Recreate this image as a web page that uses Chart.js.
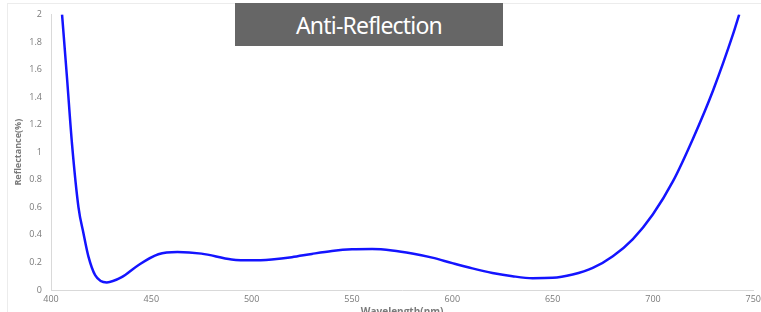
<!DOCTYPE html>
<html>
<head>
<meta charset="utf-8">
<script src="https://cdn.jsdelivr.net/npm/chart.js@4.4.1/dist/chart.umd.min.js"></script>
<style>
    html, body { margin: 0; padding: 0; background: #fff; overflow: hidden; }
    #wrap { position: relative; width: 761px; height: 312px; overflow: hidden; }
    #frame { position: absolute; left: 7px; top: 3px; width: 800px; height: 400px; border: 1px solid #ececec; box-sizing: border-box; }
    #title-box {
        position: absolute; left: 235px; top: 3px; width: 268px; height: 43px;
        background: #666666; color: #fff;
        font-family: "Noto Sans", sans-serif; font-size: 23px; letter-spacing: -0.8px;
        display: flex; align-items: center; justify-content: center;
    }
</style>
</head>
<body>
<div id="wrap">
    <div id="frame"></div>
    <canvas id="chart" width="765" height="322"></canvas>
    <div id="title-box">Anti-Reflection</div>
</div>
<script>
    // Wellenlänge (nm) und Reflexion (%)
    const wavelengths = [405.5, 408, 410.5, 413.7, 416.2, 418.7, 422, 427.8, 435, 443.5, 453.5, 463, 475, 490, 500, 510, 520, 530, 540, 550, 560, 570, 580, 590, 600, 610, 620, 630, 640, 650, 660, 670, 680, 690, 700, 710, 720, 730, 740, 743];
    const reflectance = [2.0, 1.535, 1.055, 0.6, 0.41, 0.24, 0.108, 0.055, 0.091, 0.18, 0.259, 0.276, 0.264, 0.222, 0.215, 0.222, 0.238, 0.262, 0.283, 0.295, 0.297, 0.287, 0.265, 0.235, 0.195, 0.157, 0.124, 0.1, 0.086, 0.088, 0.112, 0.16, 0.245, 0.37, 0.55, 0.79, 1.1, 1.45, 1.86, 2.0];

    const xTicks = [400, 450, 500, 550, 600, 650, 700, 750];
    const yTicks = [0, 0.2, 0.4, 0.6, 0.8, 1, 1.2, 1.4, 1.6, 1.8, 2];

    const points = wavelengths.map((w, i) => ({ x: w, y: reflectance[i] }));

    const tickFont = { family: '"Open Sans", sans-serif', size: 9 };
    const tickColor = '#7a7a7a';

    new Chart(document.getElementById('chart'), {
        type: 'scatter',
        data: {
            datasets: [{
                data: points,
                showLine: true,
                borderColor: '#1414ff',
                borderWidth: 2.5,
                pointRadius: 0,
                cubicInterpolationMode: 'monotone'
            }]
        },
        options: {
            responsive: false,
            animation: false,
            layout: { padding: { left: 13, right: 3, top: 12, bottom: 0 } },
            plugins: { legend: { display: false }, tooltip: { enabled: false } },
            scales: {
                x: {
                    type: 'linear',
                    min: 400,
                    max: 750,
                    afterBuildTicks: (scale) => { scale.ticks = xTicks.map(v => ({ value: v })); },
                    afterFit: (scale) => { scale.height = 32; },
                    grid: { display: false, drawTicks: false },
                    border: { color: '#d9d9d9' },
                    ticks: { font: tickFont, color: tickColor, padding: 4, maxRotation: 0, callback: (v) => String(v) },
                    title: { display: true, text: 'Wavelength(nm)', color: '#7a7a7a', font: { family: '"Open Sans", sans-serif', size: 10, weight: 'bold' }, padding: { top: 4 } }
                },
                y: {
                    min: 0,
                    max: 2,
                    afterBuildTicks: (scale) => { scale.ticks = yTicks.map(v => ({ value: v })); },
                    afterFit: (scale) => { scale.width = 38; },
                    grid: { display: false, drawTicks: false },
                    border: { color: '#d9d9d9' },
                    ticks: { font: tickFont, color: tickColor, padding: 9, callback: (v) => String(Math.round(v * 10) / 10) },
                    title: { display: true, text: 'Reflectance(%)', color: '#7a7a7a', font: { family: '"Open Sans", sans-serif', size: 9, weight: 'bold' }, padding: 0 }
                }
            }
        }
    });
</script>
</body>
</html>
